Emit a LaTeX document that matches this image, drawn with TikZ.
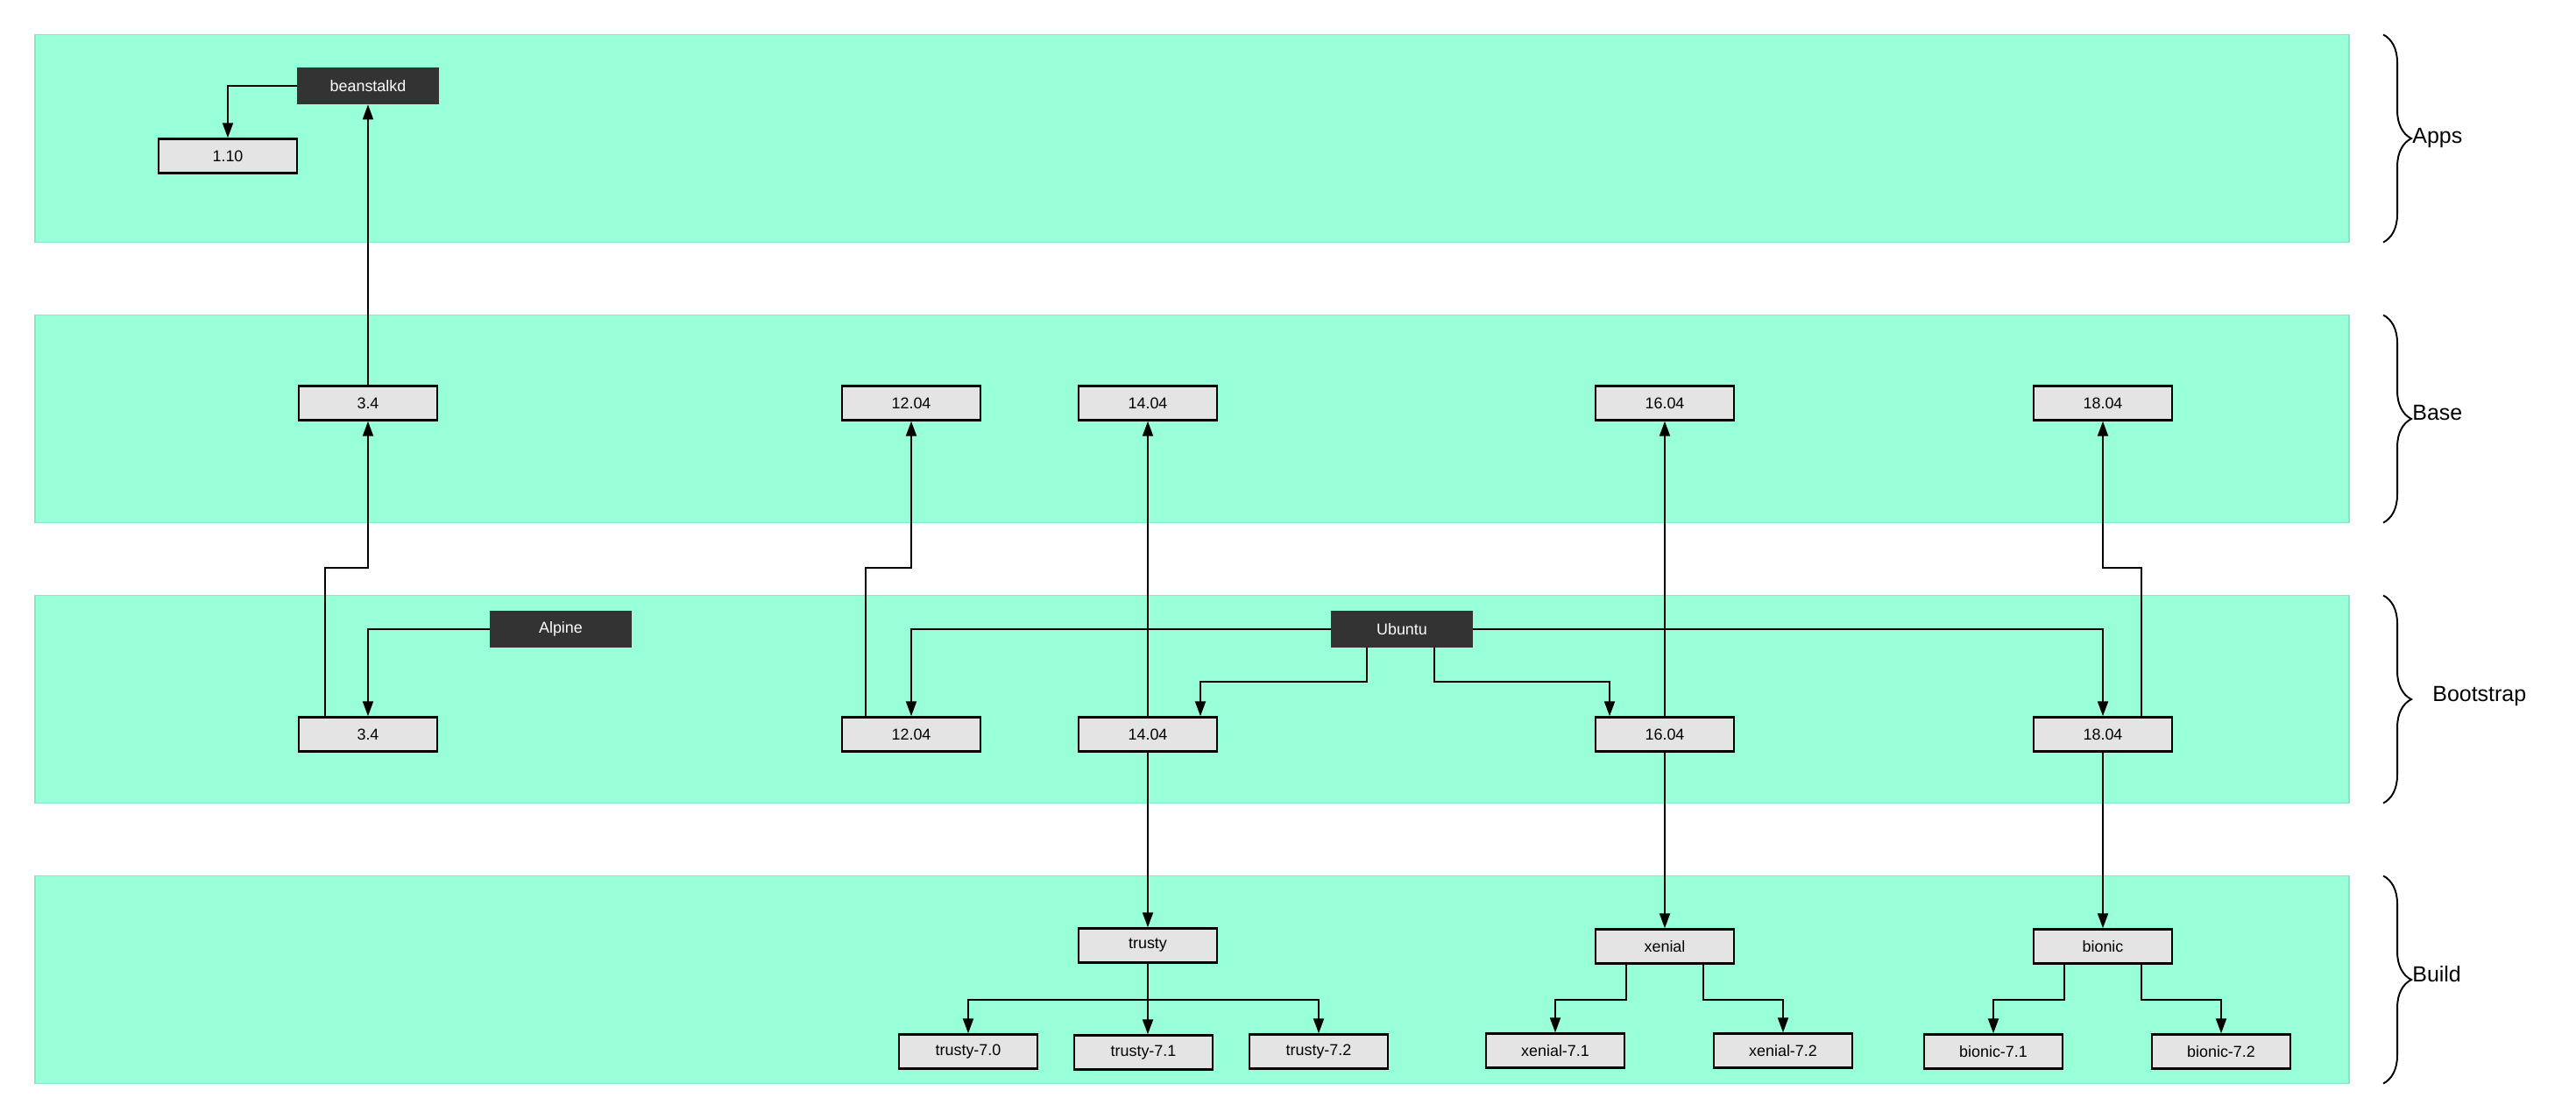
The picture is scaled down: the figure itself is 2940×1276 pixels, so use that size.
\documentclass[tikz,border=0pt]{standalone}
\usepackage{fontspec}
\setmainfont{Liberation Sans}
\usetikzlibrary{arrows.meta,decorations.pathreplacing}
\definecolor{laneFill}{HTML}{99FFD8}
\definecolor{laneLine}{HTML}{84EAC2}
\definecolor{boxFill}{HTML}{E4E4E4}
\definecolor{darkFill}{HTML}{333333}

\begin{document}
\begin{tikzpicture}[x=0.02cm, y=-0.02cm, laneStyle/.style={fill=laneFill, draw=laneLine, line width=1.1pt}, nodeStyle/.style={rectangle, draw, fill=boxFill, line width=1.4pt, minimum width=3.16cm, minimum height=0.78cm, inner sep=0pt, font=\fontsize{10.2}{12}\selectfont}, darkStyle/.style={rectangle, fill=darkFill, text=white, minimum width=3.24cm, minimum height=0.84cm, inner sep=0pt, font=\fontsize{10.2}{12}\selectfont}, arrowStyle/.style={line width=1.1pt, -{Triangle[length=0.34cm, width=0.24cm]}}, braceStyle/.style={decorate, decoration={brace, amplitude=0.64cm}, line width=1.1pt}, labelStyle/.style={anchor=west, inner sep=0pt, font=\fontsize{14.2}{17}\selectfont}]
                    \useasboundingbox (0,0) rectangle (2940,1276);

                    % lanes and braces
                    \foreach \laneTop in {39.5, 359.5, 679.5, 999.5} {
                        \draw[laneStyle] (40, \laneTop) rectangle (2681, \laneTop+237);
                        \draw[braceStyle] (2720, \laneTop) -- (2720, \laneTop+237);
                    }
                    \node[labelStyle] (lbl_apps)  at (2753,  157) {Apps};
                    \node[labelStyle] (lbl_base)  at (2753,  471) {Base};
                    \node[labelStyle] (lbl_boot)  at (2776,  794) {Bootstrap};
                    \node[labelStyle] (lbl_build) at (2753, 1112) {Build};

                    % Apps
                    \node[darkStyle] (app_beanstalkd) at ( 420,   98) {beanstalkd};
                    \node[nodeStyle] (app_110)        at ( 260,  178) {1.10};

                    % Base
                    \node[nodeStyle] (base_34)   at ( 420,  460) {3.4};
                    \node[nodeStyle] (base_1204) at (1040,  460) {12.04};
                    \node[nodeStyle] (base_1404) at (1310,  460) {14.04};
                    \node[nodeStyle] (base_1604) at (1900,  460) {16.04};
                    \node[nodeStyle] (base_1804) at (2400,  460) {18.04};

                    % Bootstrap
                    \node[darkStyle] (boot_alpine) at ( 640,  718) {Alpine};
                    \node[darkStyle] (boot_ubuntu) at (1600,  718) {Ubuntu};
                    \node[nodeStyle] (boot_34)     at ( 420,  838) {3.4};
                    \node[nodeStyle] (boot_1204)   at (1040,  838) {12.04};
                    \node[nodeStyle] (boot_1404)   at (1310,  838) {14.04};
                    \node[nodeStyle] (boot_1604)   at (1900,  838) {16.04};
                    \node[nodeStyle] (boot_1804)   at (2400,  838) {18.04};

                    % Build
                    \node[nodeStyle] (build_trusty)   at (1310, 1079) {trusty};
                    \node[nodeStyle] (build_xenial)   at (1900, 1080) {xenial};
                    \node[nodeStyle] (build_bionic)   at (2400, 1080) {bionic};
                    \node[nodeStyle] (build_trusty70) at (1105, 1200) {trusty-7.0};
                    \node[nodeStyle] (build_trusty71) at (1305, 1201) {trusty-7.1};
                    \node[nodeStyle] (build_trusty72) at (1505, 1200) {trusty-7.2};
                    \node[nodeStyle] (build_xenial71) at (1775, 1199) {xenial-7.1};
                    \node[nodeStyle] (build_xenial72) at (2035, 1199) {xenial-7.2};
                    \node[nodeStyle] (build_bionic71) at (2275, 1200) {bionic-7.1};
                    \node[nodeStyle] (build_bionic72) at (2535, 1200) {bionic-7.2};

                    % connectors
                    \draw[arrowStyle] (app_beanstalkd.west) -| (app_110.north);
                    \draw[arrowStyle] (base_34.north) -- (app_beanstalkd.south);
                    \draw[arrowStyle] (boot_alpine.west) -| (boot_34.north);
                    \draw[arrowStyle] ([xshift=-0.98cm]boot_34.north) -- ++(0,3.38cm) -| (base_34.south);
                    \draw[arrowStyle] ([xshift=-1.04cm]boot_1204.north) -- ++(0,3.38cm) -| (base_1204.south);
                    \draw[arrowStyle] (boot_1404.north) -- (base_1404.south);
                    \draw[arrowStyle] (boot_1604.north) -- (base_1604.south);
                    \draw[arrowStyle] ([xshift=0.88cm]boot_1804.north) -- ++(0,3.38cm) -| (base_1804.south);
                    \draw[arrowStyle] (boot_ubuntu.west) -| (boot_1204.north);
                    \draw[arrowStyle] (boot_ubuntu.east) -| (boot_1804.north);
                    \draw[arrowStyle] ([xshift=-0.8cm]boot_ubuntu.south) -- ++(0,-0.78cm) -| ([xshift=1.2cm]boot_1404.north);
                    \draw[arrowStyle] ([xshift=0.74cm]boot_ubuntu.south) -- ++(0,-0.78cm) -| ([xshift=-1.26cm]boot_1604.north);
                    \draw[arrowStyle] (boot_1404.south) -- (build_trusty.north);
                    \draw[arrowStyle] (boot_1604.south) -- (build_xenial.north);
                    \draw[arrowStyle] (boot_1804.south) -- (build_bionic.north);
                    \draw[arrowStyle] (build_trusty.south) -- ++(0,-0.82cm) -| (build_trusty70.north);
                    \draw[arrowStyle] (build_trusty.south) -- (build_trusty.south |- build_trusty71.north);
                    \draw[arrowStyle] (build_trusty.south) -- ++(0,-0.82cm) -| (build_trusty72.north);
                    \draw[arrowStyle] ([xshift=-0.88cm]build_xenial.south) -- ++(0,-0.8cm) -| (build_xenial71.north);
                    \draw[arrowStyle] ([xshift=0.88cm]build_xenial.south) -- ++(0,-0.8cm) -| (build_xenial72.north);
                    \draw[arrowStyle] ([xshift=-0.88cm]build_bionic.south) -- ++(0,-0.8cm) -| (build_bionic71.north);
                    \draw[arrowStyle] ([xshift=0.88cm]build_bionic.south) -- ++(0,-0.8cm) -| (build_bionic72.north);
                \end{tikzpicture}
\end{document}
